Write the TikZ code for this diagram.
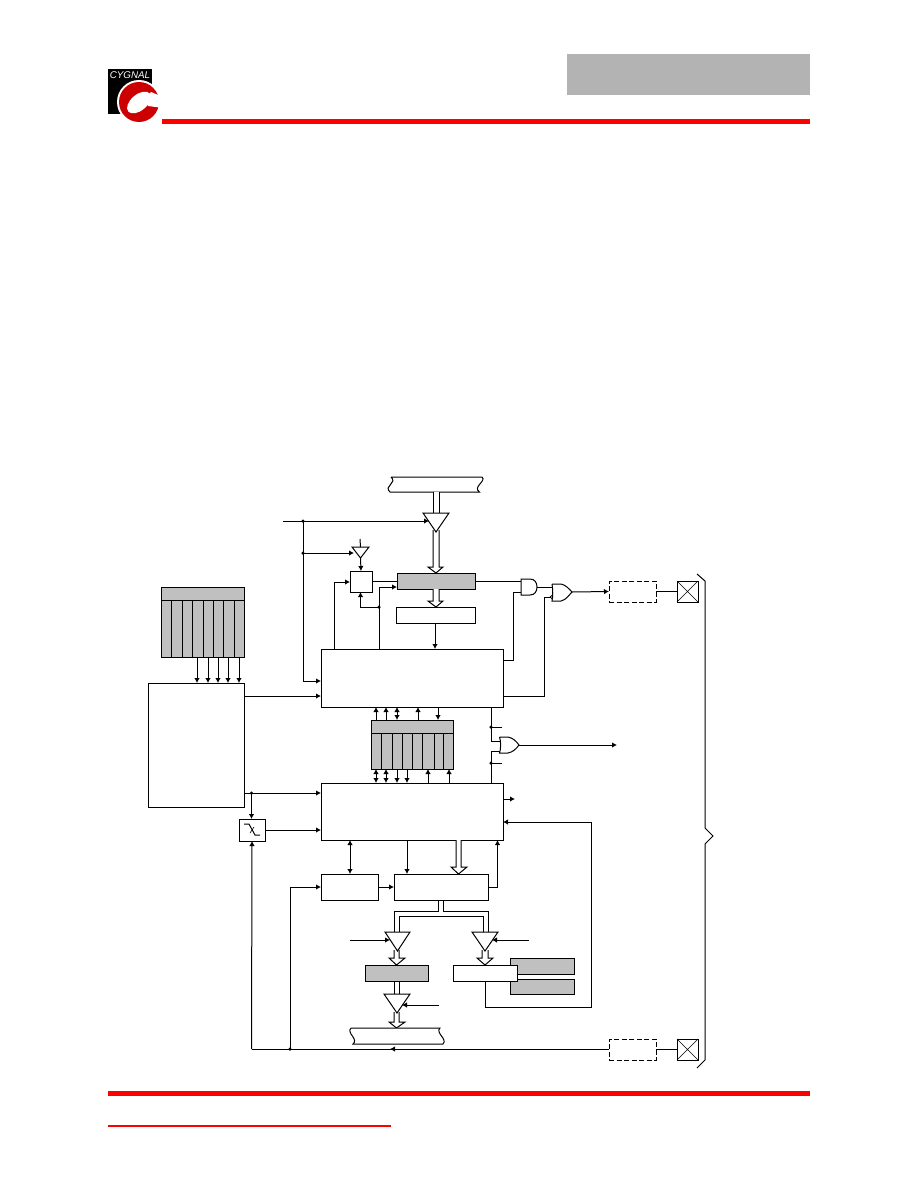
\documentclass[tikz,border=0pt]{standalone}
\usepackage{fontspec}
\setmainfont{Liberation Sans}
\usetikzlibrary{arrows.meta}
\definecolor{regray}{HTML}{C0C0C0}
\definecolor{hdrgray}{HTML}{B3B3B3}
\definecolor{cygred}{HTML}{FF0000}
\definecolor{logored}{HTML}{CC0000}
\tikzset{
  line/.style={line width=1pt,black},
  arr/.style={line,-{Latex[length=5pt,width=5.5pt]}},
  arrb/.style={line,{Latex[length=5pt,width=5.5pt]}-{Latex[length=5pt,width=5.5pt]}},
  wbox/.style={draw=black,line width=1pt,fill=white,inner sep=0pt,outer sep=0pt},
  gbox/.style={draw=black,line width=1pt,fill=regray,inner sep=0pt,outer sep=0pt},
  dbox/.style={draw=black,line width=1pt,dash pattern=on 5pt off 2.5pt,inner sep=0pt,outer sep=0pt},
  gate/.style={draw=black,line width=1pt,fill=white},
  dotj/.style={circle,fill=black,inner sep=0pt,minimum size=3.5pt},
}
% name, style, x1, y1, x2, y2
\newcommand{\bx}[6]{\node[#2,minimum width={(#5-#3)*1pt},minimum height={(#6-#4)*1pt}] (#1) at ({(#3+#5)/2},{(#4+#6)/2}) {};}
% name, x1, x2, ytop, yapex
\newcommand{\tri}[5]{\draw[gate] (#2,#4) -- (#3,#4) -- ({(#2+#3)/2},#5) -- cycle;
  \coordinate (#1-top) at ({(#2+#3)/2},#4); \coordinate (#1-apex) at ({(#2+#3)/2},#5);}
% x1, x2, y0, yhead, yapex, hx1, hx2
\newcommand{\widearr}[7]{\draw[gate] (#1,#3) -- (#1,#4) -- (#6,#4) -- ({(#1+#2)/2},#5) -- (#7,#4) -- (#2,#4) -- (#2,#3);}
\newcommand{\xbox}[1]{\draw[line width=0.6pt] (#1.north west) -- (#1.south east) (#1.north east) -- (#1.south west);}
\begin{document}
\begin{tikzpicture}[x=1pt,y=-1pt]
\useasboundingbox (0,0) rectangle (918,1188);
\fill[white] (0,0) rectangle (918,1188);
% header
\fill[hdrgray] (567,54) rectangle (809.5,95);
\fill[cygred] (162,119) rectangle (809.5,124);
\fill[cygred] (108,1091) rectangle (809.5,1096);
\fill[cygred] (108,1124.5) rectangle (391,1127);
% logo
\fill[black] (108,69) rectangle (152,114);
\node[text=white,font=\fontsize{9.8}{10}\selectfont\itshape,inner sep=0pt] (logotext) at (130,75.5) {CYGNAL};
\fill[white] (139,102) circle (22);
\fill[logored] (139,102) circle (20);
\fill[white,rotate around={40:(139,102.5)}] (139,102.5) ellipse (14 and 8);
\fill[white] (145,99) -- (151,92) -- (165,98) -- (163,108) -- (148,106) -- cycle;
% top bus
\draw[gate] (391,477) -- (482,477) .. controls (487,481) and (472,487) .. (479.5,492) -- (390,492) .. controls (383,486) and (398,483) .. (391,477);
\coordinate (topbus) at (436,492);
\widearr{433}{439}{492}{513}{513}{433}{439}
\widearr{433}{439}{530}{567}{573}{428}{443}
\tri{t1}{423}{449}{513}{532}
% small triangle and mux
\bx{mux}{wbox}{350}{571}{372}{592}
\bx{reg}{gbox}{397}{573}{475}{589}
\bx{latch}{wbox}{396}{607}{475}{623}
\widearr{433}{439}{589}{601}{607}{428}{443}
\tri{t2}{352}{369}{547}{558}
\bx{ctlA}{wbox}{321}{649}{503}{707}
\bx{ctlB}{wbox}{321}{783}{503}{840}
\bx{left}{wbox}{148}{683}{244}{807}
\bx{schmitt}{wbox}{239}{819}{265}{841}
% gray table upper left
\bx{tabL}{gbox}{161}{587}{244}{657}
\draw[line] (161,600) -- (244,600);
\foreach \x in {171,182,192,203,213,223,234} \draw[line] (\x,600) -- (\x,657);
\foreach \x in {197,208,218,228,239} \draw[arr] (\x,657) -- (\x,683);
% gray table middle
\bx{tabM}{gbox}{371}{720}{453}{769}
\draw[line] (371,733) -- (453,733);
\foreach \x in {381,392,402,412,422,434,443} \draw[line] (\x,733) -- (\x,769);
\draw[arr] (376,720) -- (376,707);
\draw[arr] (386,720) -- (386,707);
\draw[arrb] (397,720) -- (397,707);
\draw[arr] (418,720) -- (418,707);
\draw[arr] (438,707) -- (438,720);
\draw[arrb] (376,769) -- (376,783);
\draw[arrb] (386,769) -- (386,783);
\draw[arr] (397,769) -- (397,783);
\draw[arr] (407,769) -- (407,783);
\draw[arr] (428,783) -- (428,769);
\draw[arr] (449,783) -- (449,769);
% top left signals
\coordinate (in1) at (283,521);
\coordinate (j1) at (303,521);
\coordinate (j2) at (303,553);
\node[dotj] at (j1) {}; \node[dotj] at (j2) {};
\draw[arr] (in1) -- (429,521);
\draw[arr] (j1) -- (303,681) -- (321,681);
\draw[arr] (j2) -- (354,553);
\draw[line] (360,539) -- (t2-top);
\draw[arr] (t2-apex) -- (mux.north);
\draw[line] (372,581) -- (397,581);
\draw[arr] (379,649) -- (379,587) -- (397,587);
\draw[arr] (334,649) -- (334,582) -- (350,582);
\coordinate (j3) at (379,607);
\node[dotj] at (j3) {};
\draw[arr] (j3) -- (360.5,607) -- (360.5,592);
\draw[arr] (435,623) -- (435,649);
% gates
\draw[line] (475,581) -- (521,581);
\draw[line] (503,660) -- (513,660) -- (513,592) -- (521,592);
\draw[gate] (521,579) -- (530,579) .. controls (535,579) and (537,583) .. (537,587) .. controls (537,591) and (535,595) .. (530,595) -- (521,595) -- cycle;
\draw[line] (537,587) -- (552,587);
\draw[line] (503,696) -- (544,696) -- (544,597) -- (551,597);
\draw[gate] (552,584) -- (561,584) .. controls (566,585) and (569,589) .. (572,592) .. controls (569,595) and (566,600) .. (561,601) -- (552,601) -- (552,601) .. controls (553,596) and (553,589) .. (552,584);
\draw[gate,line width=0.7pt] (551.5,597) circle (1.3);
\bx{padA}{dbox}{609}{581}{656}{602}
\bx{xA}{wbox}{677}{581}{698}{602}
\xbox{xA}
\draw[arr] (572,592) -- (padA.west);
\draw[line] (padA.east) -- (xA.west);
% lower pad
\bx{padB}{dbox}{609}{1039}{656}{1060}
\bx{xB}{wbox}{677}{1039}{698}{1060}
\xbox{xB}
\draw[line] (padB.east) -- (xB.west);
% brace
\draw[line] (697,574) -- (705,581) -- (705,828) -- (713,836) -- (705,844) -- (705,1060) -- (697,1068);
% lower OR
\draw[line] (491,707) -- (491,741) -- (500,741);
\draw[line] (491,783) -- (491,751) -- (500,751);
\coordinate (j4) at (491,727); \coordinate (j5) at (491,763);
\node[dotj] at (j4) {}; \node[dotj] at (j5) {};
\draw[line] (j4) -- (502,727);
\draw[line] (j5) -- (502,763);
\draw[gate] (499.5,737) -- (508,737) .. controls (513,738) and (516,741) .. (519,745) .. controls (516,749) and (513,752) .. (508,753) -- (499.5,753) .. controls (501,749) and (501,741) .. (499.5,737);
\coordinate (orout) at (617,745);
\draw[arr] (519,745) -- (orout);
% left block links
\draw[arr] (244,696) -- (321,696);
\coordinate (j6) at (251.5,793);
\node[dotj] at (j6) {};
\draw[arr] (244,793) -- (321,793);
\draw[arr] (j6) -- (251.5,819);
\draw[arr] (265,830) -- (321,830);
\draw[line] (244,824) -- (249,824) -- (255,835) -- (260,835);
\draw[line width=0.6pt] (250,833) -- (254,827);
% lower blocks
\bx{boxC}{wbox}{321}{874}{378}{900}
\bx{boxD}{wbox}{394}{874}{488}{900}
\draw[arrb] (350,840) -- (350,874);
\draw[arr] (407,840) -- (407,874);
\widearr{456}{461}{840}{867}{874}{451}{467}
\draw[arr] (488,887) -- (497.5,887) -- (497.5,840);
\draw[arr] (boxC.east) -- (boxD.west);
\draw[arr] (503,799) -- (515,799);
\coordinate (j7) at (290,1049);
\node[dotj] at (j7) {};
\draw[arr] (j7) -- (290,887) -- (321,887);
\draw[line] (609,1049) -- (251.5,1049);
\draw[arr] (609,1049) -- (390,1049);
\draw[arr] (251.5,1049) -- (schmitt.south);
% bus splitter
\draw[gate,fill=none] (438,900) -- (438,911) -- (394,911) -- (394,933);
\draw[gate,fill=none] (443,900) -- (443,911) -- (488,911) -- (488,933);
\draw[gate,fill=none] (399,933) -- (399,916) -- (483,916) -- (483,933);
\widearr{394}{399}{950}{958}{965}{389}{405}
\widearr{482}{488}{950}{958}{965}{477}{493}
\tri{t3}{385}{410}{932}{951}
\tri{t4}{472}{498}{932}{951}
\coordinate (c3) at (350,940);
\coordinate (c4) at (529,940);
\draw[arr] (c3) -- (390,940);
\draw[arr] (c4) -- (492,940);
\bx{regB}{gbox}{365}{965}{428}{981}
\bx{grayA}{gbox}{510}{958}{574}{974}
\bx{grayB}{gbox}{510}{979}{574}{994}
\bx{boxE}{wbox}{453}{965}{517}{981}
% feedback
\draw[arr] (485,981) -- (485,1007) -- (591.5,1007) -- (591.5,822) -- (503,822);
% bottom tri
\draw[line] (394,981) -- (394,995) (399,981) -- (399,995);
\widearr{394}{399}{1012}{1022}{1028}{389}{405}
\tri{t5}{384}{410}{994}{1013}
\coordinate (c5) at (439,1005);
\draw[arr] (c5) -- (402,1005);
\draw[gate] (351,1028) -- (440,1028) .. controls (435,1033) and (448,1039) .. (443,1044) -- (353,1044) .. controls (359,1039) and (346,1033) .. (351,1028);
\end{tikzpicture}
\end{document}
